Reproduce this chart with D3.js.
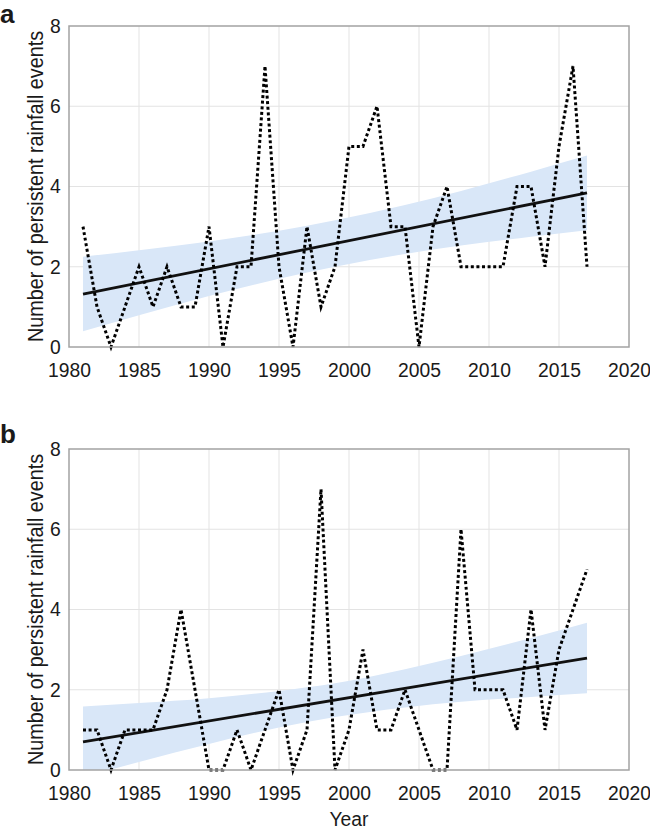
<!DOCTYPE html>
<html>
<head>
<meta charset="utf-8">
<script src="https://cdn.jsdelivr.net/npm/d3@7"></script>
<style>
  html, body { margin: 0; padding: 0; background: #fff; }
  svg { display: block; }
  text { font-family: "Liberation Sans", Arial, sans-serif; fill: #1a1a1a; }
</style>
</head>
<body>
<svg id="chart" width="650" height="831"></svg>
<script>
// ---- data ----
const years = d3.range(1981, 2018);
const eventsA = [3,1,0,1,2,1,2,1,1,3, 0,2,2,7,2,0,3,1,2,5, 5,6,3,3,0,3,4,2,2,2, 2,4,4,2,5,7,2];
const eventsB = [1,1,0,1,1,1,2,4,2,0, 0,1,0,1,2,0,1,7,0,1, 3,1,1,2,1,0,0,6,2,2, 2,1,4,1,3,4,5];
const trendYears = [1981, 2017];
const trendA = [1.32, 3.84];
const trendB = [0.70, 2.79];
const ciYears = [1981, 1985, 1990, 1995, 1999, 2004, 2008, 2013, 2017];
const ciLowerA = [0.39, 0.79, 1.27, 1.70, 2.00, 2.32, 2.53, 2.75, 2.91];
const ciUpperA = [2.25, 2.41, 2.63, 2.90, 3.16, 3.54, 3.89, 4.37, 4.77];
const ciLowerB = [-0.18, 0.20, 0.65, 1.06, 1.32, 1.56, 1.70, 1.82, 1.91];
const ciUpperB = [1.58, 1.67, 1.79, 1.97, 2.16, 2.51, 2.84, 3.29, 3.67];
const xTicks = [1980, 1985, 1990, 1995, 2000, 2005, 2010, 2015, 2020];
const yTicks = [0, 2, 4, 6, 8];
const panelLabels = ["a", "b"];
const yTitle = "Number of persistent rainfall events";
const xTitle = "Year";

// ---- layout ----
const svg = d3.select("#chart");
const left = 69, right = 629;
const panels = [
  { top: 26, bottom: 347, ev: eventsA, tr: trendA, lo: ciLowerA, up: ciUpperA, label: panelLabels[0], labelY: 23 },
  { top: 449, bottom: 770, ev: eventsB, tr: trendB, lo: ciLowerB, up: ciUpperB, label: panelLabels[1], labelY: 443 }
];
const sx = 0.92;

const x = d3.scaleLinear().domain([1980, 2020]).range([left, right]);

panels.forEach((p, i) => {
  const y = d3.scaleLinear().domain([0, 8]).range([p.bottom, p.top]);
  const g = svg.append("g");

  const clipId = "clip" + i;
  svg.append("clipPath").attr("id", clipId)
    .append("rect").attr("x", left).attr("y", p.top)
    .attr("width", right - left).attr("height", p.bottom - p.top);

  // gridlines
  g.append("g").selectAll("line.vg").data(xTicks.slice(1, -1)).join("line")
    .attr("x1", d => x(d)).attr("x2", d => x(d))
    .attr("y1", p.top).attr("y2", p.bottom)
    .attr("stroke", "#e3e3e3").attr("stroke-width", 1);
  g.append("g").selectAll("line.hg").data(yTicks.slice(1, -1)).join("line")
    .attr("x1", left).attr("x2", right)
    .attr("y1", d => y(d)).attr("y2", d => y(d))
    .attr("stroke", "#e3e3e3").attr("stroke-width", 1);

  // confidence band
  const band = ciYears.map((yr, k) => ({ yr, lo: p.lo[k], up: p.up[k] }));
  g.append("path").datum(band)
    .attr("clip-path", `url(#${clipId})`)
    .attr("fill", "#d9e7f8")
    .attr("d", d3.area().curve(d3.curveMonotoneX)
      .x(d => x(d.yr)).y0(d => y(d.lo)).y1(d => y(d.up)));

  // trend line
  g.append("path").datum(trendYears.map((yr, k) => ({ yr, v: p.tr[k] })))
    .attr("fill", "none").attr("stroke", "#111").attr("stroke-width", 2.8)
    .attr("d", d3.line().x(d => x(d.yr)).y(d => y(d.v)));

  // dotted series
  g.append("path").datum(years.map((yr, k) => ({ yr, v: p.ev[k] })))
    .attr("fill", "none").attr("stroke", "#000").attr("stroke-width", 3)
    .attr("stroke-dasharray", "3,2.6")
    .attr("d", d3.line().x(d => x(d.yr)).y(d => y(d.v)));

  // frame
  g.append("rect").attr("x", left).attr("y", p.top)
    .attr("width", right - left).attr("height", p.bottom - p.top)
    .attr("fill", "none").attr("stroke", "#a3a3a3").attr("stroke-width", 1.5);

  // axes
  const xa = g.append("g").attr("transform", `translate(0,${p.bottom})`)
    .call(d3.axisBottom(x).tickValues(xTicks).tickFormat(d3.format("d")).tickSize(0).tickPadding(15));
  xa.select(".domain").remove();
  xa.selectAll("text").attr("font-size", 21).attr("fill", "#1a1a1a")
    .style("font-family", '"Liberation Sans", Arial, sans-serif')
    .attr("transform", `scale(${sx},1)`);

  const ya = g.append("g").attr("transform", `translate(${left},0)`)
    .call(d3.axisLeft(y).tickValues(yTicks).tickFormat(d3.format("d")).tickSize(0).tickPadding(9));
  ya.select(".domain").remove();
  ya.selectAll("text").attr("font-size", 21).attr("fill", "#1a1a1a")
    .style("font-family", '"Liberation Sans", Arial, sans-serif')
    .attr("dy", "0.3em")
    .attr("transform", `scale(${sx},1)`);

  // y title
  g.append("text")
    .attr("transform", `translate(43,${(p.top + p.bottom) / 2}) rotate(-90) scale(${0.9},1)`)
    .attr("text-anchor", "middle").attr("font-size", 22)
    .text(yTitle);

  // panel label
  g.append("text").attr("x", 0).attr("y", p.labelY)
    .attr("font-size", 26).attr("font-weight", "bold").attr("fill", "#000")
    .text(p.label);
});

svg.append("text").attr("x", (left + right) / 2).attr("y", 826)
  .attr("text-anchor", "middle").attr("font-size", 21)
  .attr("transform", `translate(${(left + right) / 2 * (1 - sx)},0) scale(${sx},1)`)
  .text(xTitle);
</script>
</body>
</html>
